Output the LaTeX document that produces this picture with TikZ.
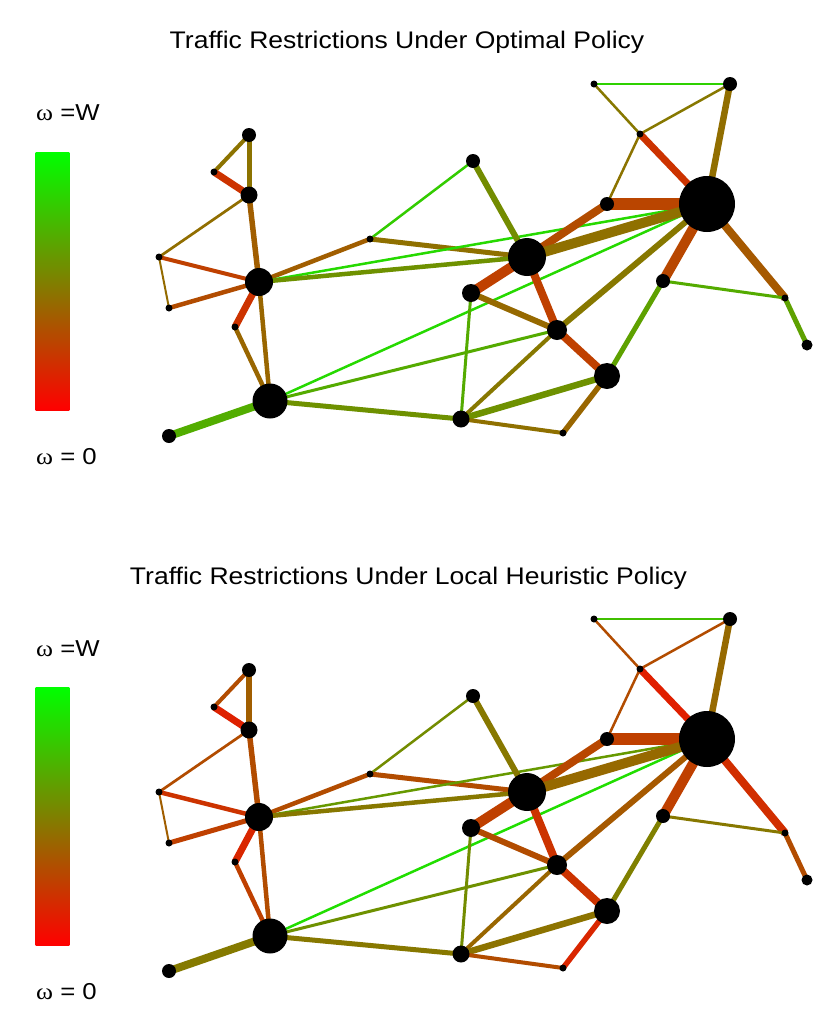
\documentclass[tikz,border=0pt]{standalone}
\usepackage{fontspec}
\setmainfont{Liberation Sans}
\newfontfamily\grk{Liberation Serif}
\pgfdeclarelayer{bg}
\pgfdeclarelayer{edges}
\pgfsetlayers{bg,edges,main}
\newcommand\vlist{A/249/135/14, B/214/172/7, C/249/195/17, D/159/257/7, E/169/308/7,
 F/259/282/28, G/235/327/7, H/270/401/35, I/169/436/14, J/370/239/7, K/594/84/7,
 L/730/84/14, M/640/134/7, N/473/161/14, O/607/204/14, P/707/204/56, Q/527/257/38,
 R/471/293/18, S/663/281/14, T/785/298/7, U/807/345/11, V/557/330/20, W/607/376/26,
 X/461/419/17, Y/563/433/7}
\tikzset{
 vert/.style={circle, fill=black, inner sep=0pt, outer sep=0pt, minimum size=#1},
 lnk/.style 2 args={line width=#2pt, draw=green!#1!red, line cap=butt},
 ttl/.style={anchor=base, inner sep=0pt, font=\fontsize{24}{28}\selectfont},
 lbl/.style={anchor=base west, inner sep=0pt, font=\fontsize{23}{27}\selectfont},
 cbar/.style={rectangle, inner sep=0pt, outer sep=0pt, minimum width=33.6pt,
   minimum height=258.5pt, top color=green, bottom color=red}
}
\begin{document}
\begin{tikzpicture}[x=1pt,y=-1pt]
\begin{pgfonlayer}{bg}
\path[use as bounding box, fill=white] (0,0) rectangle (830,1026);
\end{pgfonlayer}
% titles
\node[ttl] (t1) at (407,48) {\scalebox{1.105}[1]{Traffic Restrictions Under Optimal Policy}};
\node[ttl] (t2) at (408.5,584) {\scalebox{1.105}[1]{Traffic Restrictions Under Local Heuristic Policy}};
% colour bars and labels
\node[cbar] (bar1) at (52.5,281.25) {};
\node[cbar] (bar2) at (52.5,816.25) {};
\node[lbl] (wt1) at (36,120) {\scalebox{1.12}[1]{{\grk ω} =W}};
\node[lbl] (wb1) at (36,464) {\scalebox{1.12}[1]{{\grk ω} = 0}};
\node[lbl] (wt2) at (36,656) {\scalebox{1.12}[1]{{\grk ω} =W}};
\node[lbl] (wb2) at (36,999) {\scalebox{1.12}[1]{{\grk ω} = 0}};
% vertices
\foreach \n/\x/\y/\d in \vlist {
  \node[vert=\d pt] (t\n) at (\x,\y) {};
  \node[vert=\d pt] (b\n) at (\x,\y+535) {};
}
\begin{pgfonlayer}{edges}
\foreach \u/\v/\t/\w in {A/B/45/4, A/C/45/5, B/C/20/7, C/D/43/2.7, C/F/37/5.5,
  D/F/25/4, D/E/42/2, E/F/30/4.5, F/G/20/7, G/H/40/4.5, F/H/40/4.5, F/J/37/4.5,
  J/N/80/2.5, J/Q/44/5, F/P/85/2.5, F/Q/57/4.5, H/I/68/8, H/P/85/2.5, H/V/67/3,
  H/X/57/5, K/L/82/2.5, K/M/47/2.5, M/L/47/2.5, L/P/43/6.5, M/P/20/7, M/O/45/2.5,
  O/P/27/12, N/Q/55/6, Q/O/30/8, Q/P/44/10, Q/R/25/10, Q/V/25/8, R/V/41/6,
  R/X/67/3, P/V/47/6, P/S/28/10, P/T/35/8, S/T/67/3, T/U/63/5, S/W/63/5,
  V/W/25/8, X/V/47/4, X/W/57/6.5, X/Y/44/4, Y/W/40/5.5}
  \draw[lnk={\t}{\w}] (t\u.center) -- (t\v.center);
\foreach \u/\v/\t/\w in {A/B/30/4, A/C/37/5.5, B/C/13/7, C/D/30/2.7, C/F/30/5.5,
  D/F/20/4.5, D/E/37/2, E/F/25/5, F/G/15/7, G/H/25/4.5, F/H/30/4.5, F/J/30/4.5,
  J/N/55/2.5, J/Q/30/5, F/P/60/2.5, F/Q/47/4.5, H/I/48/8, H/P/87/2.5, H/V/57/3,
  H/X/47/5, K/L/75/2.5, K/M/30/2.5, M/L/30/2.5, L/P/41/6.5, M/P/12/7, M/O/30/2.5,
  O/P/25/12, N/Q/47/6, Q/O/28/8, Q/P/41/10, Q/R/25/10, Q/V/20/8, R/V/30/6,
  R/X/55/3, P/V/35/6, P/S/25/10, P/T/18/8, S/T/47/3, T/U/30/5, S/W/50/5,
  V/W/20/8, X/V/40/4, X/W/45/6.5, X/Y/30/4, Y/W/15/5.5}
  \draw[lnk={\t}{\w}] (b\u.center) -- (b\v.center);
\end{pgfonlayer}
\end{tikzpicture}
\end{document}
